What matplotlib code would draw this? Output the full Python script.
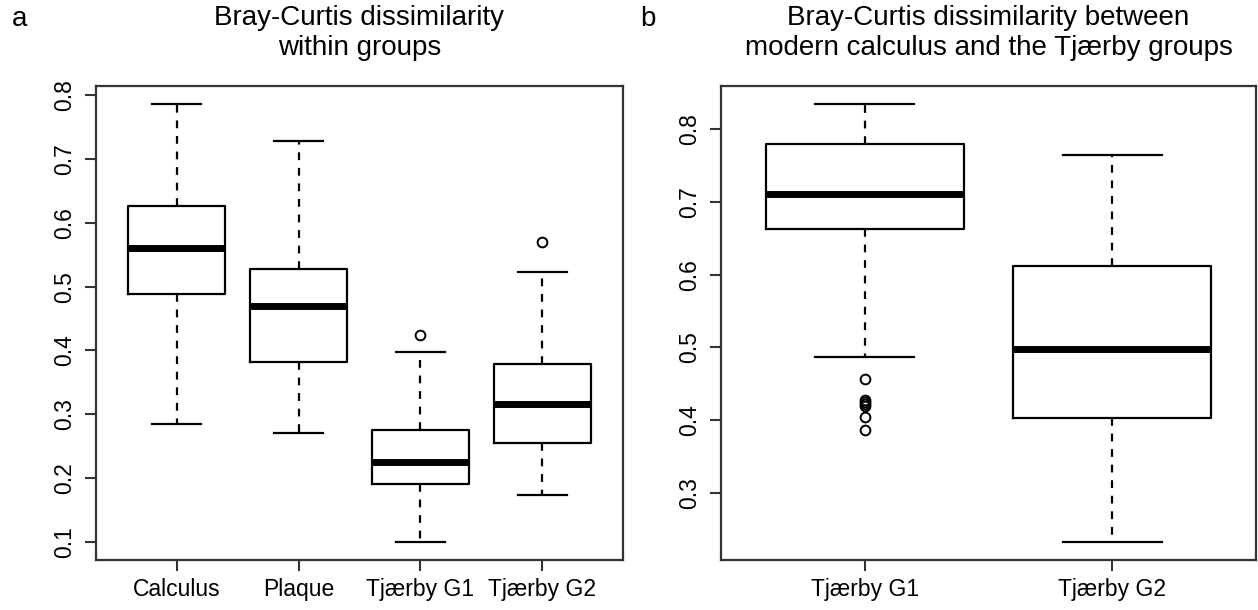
import matplotlib
matplotlib.use("Agg")
import matplotlib.pyplot as plt

plt.rcParams['font.family'] = ['Liberation Sans', 'DejaVu Sans']

# panel a: within groups
groups_a = ["Calculus", "Plaque", "Tjærby G1", "Tjærby G2"]
low_a = [0.284, 0.271, 0.099, 0.173]
q1_a = [0.488, 0.382, 0.191, 0.255]
med_a = [0.561, 0.469, 0.225, 0.316]
q3_a = [0.626, 0.527, 0.276, 0.378]
high_a = [0.787, 0.728, 0.397, 0.523]
out_a = [[], [], [0.424], [0.570]]

# panel b: modern calculus vs Tjaerby groups
groups_b = ["Tjærby G1", "Tjærby G2"]
low_b = [0.487, 0.232]
q1_b = [0.662, 0.403]
med_b = [0.711, 0.498]
q3_b = [0.779, 0.612]
high_b = [0.835, 0.764]
out_b = [[0.457, 0.428, 0.425, 0.422, 0.419, 0.405, 0.386], []]


def make_stats(labels, lo, q1, med, q3, hi, fl):
    return [dict(label=l, whislo=a, q1=b, med=c, q3=d, whishi=e, fliers=f)
            for l, a, b, c, d, e, f in zip(labels, lo, q1, med, q3, hi, fl)]


def draw(ax, stats, yticks):
    n = len(stats)
    ax.bxp(stats, positions=range(1, n + 1), widths=0.8,
           boxprops=dict(color="black", linewidth=1.6),
           medianprops=dict(color="black", linewidth=5, solid_capstyle="butt"),
           whiskerprops=dict(color="black", linewidth=1.6, linestyle=(0, (3.5, 3.5))),
           capprops=dict(color="black", linewidth=1.6),
           capwidths=0.4,
           flierprops=dict(marker="o", markerfacecolor="none", markeredgecolor="black",
                           markersize=7, markeredgewidth=1.4))
    lo = min(min(s["whislo"], *s["fliers"]) if s["fliers"] else s["whislo"] for s in stats)
    hi = max(max(s["whishi"], *s["fliers"]) if s["fliers"] else s["whishi"] for s in stats)
    pad = (hi - lo) * 0.04
    ax.set_ylim(lo - pad, hi + pad)
    xpad = n * 0.04
    ax.set_xlim(0.5 - xpad, n + 0.5 + xpad)
    ax.set_yticks(yticks)
    ax.set_yticklabels([f"{t:.1f}" for t in yticks])
    for lbl in ax.get_yticklabels():
        lbl.set_rotation(90)
        lbl.set_va("center")
    ax.tick_params(axis="both", length=8, width=1.5, labelsize=16.5, pad=6, color="#333333")
    ax.tick_params(axis="x", pad=5)
    for sp in ax.spines.values():
        sp.set_linewidth(1.6)
        sp.set_color("#333333")


fig = plt.figure(figsize=(12.58, 6.10), dpi=100)
ax1 = fig.add_axes([96 / 1258, 1 - 560 / 610, 527 / 1258, 474 / 610])
ax2 = fig.add_axes([721 / 1258, 1 - 560 / 610, 535 / 1258, 474 / 610])

draw(ax1, make_stats(groups_a, low_a, q1_a, med_a, q3_a, high_a, out_a),
     [0.1, 0.2, 0.3, 0.4, 0.5, 0.6, 0.7, 0.8])
draw(ax2, make_stats(groups_b, low_b, q1_b, med_b, q3_b, high_b, out_b),
     [0.3, 0.4, 0.5, 0.6, 0.7, 0.8])

ax1.set_title("Bray-Curtis dissimilarity\nwithin groups", fontsize=20, pad=22, linespacing=1.2)
ax2.set_title("Bray-Curtis dissimilarity between\nmodern calculus and the Tjærby groups",
              fontsize=20, pad=22, linespacing=1.2)

fig.text(12 / 1258, 1 - 26 / 610, "a", fontsize=20)
fig.text(640 / 1258, 1 - 26 / 610, "b", fontsize=20)

fig.savefig("out.png", dpi=100)
